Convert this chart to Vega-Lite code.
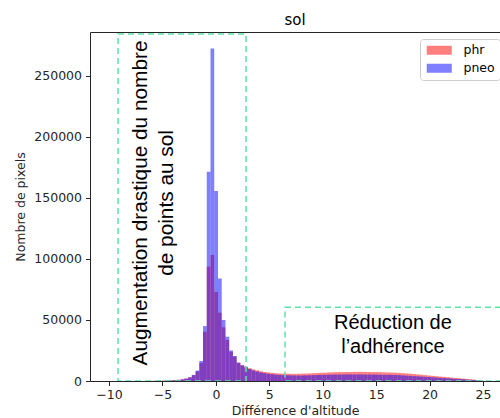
{
"$schema": "https://vega.github.io/schema/vega-lite/v6.json",
"width": 410, "height": 349,
"autosize": "none",
"padding": {"left": 90, "top": 32, "right": 0, "bottom": 37},
"title": {"text": "sol", "font": "DejaVu Sans", "fontSize": 15, "fontWeight": "normal", "color": "#000000", "offset": 4},
"config": {
  "view": {"stroke": null},
  "axis": {"labelFont": "DejaVu Sans", "labelFontSize": 12.5, "labelColor": "#262626", "tickColor": "#262626", "domainColor": "#262626", "tickSize": 4.5, "titleFont": "DejaVu Sans", "titleFontSize": 12.5, "titleFontWeight": "normal", "titleColor": "#262626", "grid": false, "labelFlush": false, "labelOverlap": false}
},
"resolve": {"axis": {"x": "independent"}},
"layer": [
  {
    "data": {"values": [
      {"s": -6.15, "e": -5.8, "phr": 100, "pneo": 80},
      {"s": -5.8, "e": -5.45, "phr": 150, "pneo": 100},
      {"s": -5.45, "e": -5.1, "phr": 200, "pneo": 150},
      {"s": -5.1, "e": -4.75, "phr": 300, "pneo": 200},
      {"s": -4.75, "e": -4.4, "phr": 400, "pneo": 300},
      {"s": -4.4, "e": -4.05, "phr": 600, "pneo": 400},
      {"s": -4.05, "e": -3.7, "phr": 800, "pneo": 600},
      {"s": -3.7, "e": -3.35, "phr": 1100, "pneo": 900},
      {"s": -3.35, "e": -3.0, "phr": 1500, "pneo": 1300},
      {"s": -3.0, "e": -2.65, "phr": 2100, "pneo": 1900},
      {"s": -2.65, "e": -2.3, "phr": 3000, "pneo": 3000},
      {"s": -2.3, "e": -1.95, "phr": 4800, "pneo": 5000},
      {"s": -1.95, "e": -1.6, "phr": 8000, "pneo": 8500},
      {"s": -1.6, "e": -1.25, "phr": 14800, "pneo": 16400},
      {"s": -1.25, "e": -0.9, "phr": 40400, "pneo": 45000},
      {"s": -0.9, "e": -0.55, "phr": 93700, "pneo": 171500},
      {"s": -0.55, "e": -0.2, "phr": 103300, "pneo": 272400},
      {"s": -0.2, "e": 0.15, "phr": 73000, "pneo": 155700},
      {"s": 0.15, "e": 0.5, "phr": 56000, "pneo": 84000},
      {"s": 0.5, "e": 0.85, "phr": 44000, "pneo": 50000},
      {"s": 0.85, "e": 1.2, "phr": 33600, "pneo": 36300},
      {"s": 1.2, "e": 1.55, "phr": 24000, "pneo": 25000},
      {"s": 1.55, "e": 1.9, "phr": 20000, "pneo": 20500},
      {"s": 1.9, "e": 2.25, "phr": 15000, "pneo": 15000},
      {"s": 2.25, "e": 2.6, "phr": 13000, "pneo": 12800},
      {"s": 2.6, "e": 2.95, "phr": 11800, "pneo": 11200},
      {"s": 2.95, "e": 3.3, "phr": 10500, "pneo": 9800},
      {"s": 3.3, "e": 3.65, "phr": 9500, "pneo": 8700},
      {"s": 3.65, "e": 4.0, "phr": 8700, "pneo": 7800},
      {"s": 4.0, "e": 4.35, "phr": 8000, "pneo": 7000},
      {"s": 4.35, "e": 4.7, "phr": 7400, "pneo": 6400},
      {"s": 4.7, "e": 5.05, "phr": 7000, "pneo": 5900},
      {"s": 5.05, "e": 5.4, "phr": 6700, "pneo": 5500},
      {"s": 5.4, "e": 5.75, "phr": 6400, "pneo": 5200},
      {"s": 5.75, "e": 6.1, "phr": 6200, "pneo": 5000},
      {"s": 6.1, "e": 6.45, "phr": 6100, "pneo": 4800},
      {"s": 6.45, "e": 6.8, "phr": 6000, "pneo": 4700},
      {"s": 6.8, "e": 7.15, "phr": 5900, "pneo": 4600},
      {"s": 7.15, "e": 7.5, "phr": 5900, "pneo": 4500},
      {"s": 7.5, "e": 7.85, "phr": 5900, "pneo": 4500},
      {"s": 7.85, "e": 8.2, "phr": 6000, "pneo": 4500},
      {"s": 8.2, "e": 8.55, "phr": 6100, "pneo": 4600},
      {"s": 8.55, "e": 8.9, "phr": 6200, "pneo": 4700},
      {"s": 8.9, "e": 9.25, "phr": 6400, "pneo": 4800},
      {"s": 9.25, "e": 9.6, "phr": 6500, "pneo": 4900},
      {"s": 9.6, "e": 9.95, "phr": 6700, "pneo": 5000},
      {"s": 9.95, "e": 10.3, "phr": 6800, "pneo": 5100},
      {"s": 10.3, "e": 10.65, "phr": 7000, "pneo": 5200},
      {"s": 10.65, "e": 11.0, "phr": 7100, "pneo": 5200},
      {"s": 11.0, "e": 11.35, "phr": 7200, "pneo": 5300},
      {"s": 11.35, "e": 11.7, "phr": 7300, "pneo": 5300},
      {"s": 11.7, "e": 12.05, "phr": 7300, "pneo": 5300},
      {"s": 12.05, "e": 12.4, "phr": 7400, "pneo": 5400},
      {"s": 12.4, "e": 12.75, "phr": 7400, "pneo": 5400},
      {"s": 12.75, "e": 13.1, "phr": 7500, "pneo": 5400},
      {"s": 13.1, "e": 13.45, "phr": 7500, "pneo": 5400},
      {"s": 13.45, "e": 13.8, "phr": 7500, "pneo": 5400},
      {"s": 13.8, "e": 14.15, "phr": 7400, "pneo": 5300},
      {"s": 14.15, "e": 14.5, "phr": 7400, "pneo": 5300},
      {"s": 14.5, "e": 14.85, "phr": 7300, "pneo": 5300},
      {"s": 14.85, "e": 15.2, "phr": 7300, "pneo": 5200},
      {"s": 15.2, "e": 15.55, "phr": 7200, "pneo": 5200},
      {"s": 15.55, "e": 15.9, "phr": 7100, "pneo": 5100},
      {"s": 15.9, "e": 16.25, "phr": 7000, "pneo": 5100},
      {"s": 16.25, "e": 16.6, "phr": 6900, "pneo": 5000},
      {"s": 16.6, "e": 16.95, "phr": 6800, "pneo": 4900},
      {"s": 16.95, "e": 17.3, "phr": 6600, "pneo": 4800},
      {"s": 17.3, "e": 17.65, "phr": 6400, "pneo": 4600},
      {"s": 17.65, "e": 18.0, "phr": 6200, "pneo": 4400},
      {"s": 18.0, "e": 18.35, "phr": 6000, "pneo": 4200},
      {"s": 18.35, "e": 18.7, "phr": 5700, "pneo": 4000},
      {"s": 18.7, "e": 19.05, "phr": 5400, "pneo": 3800},
      {"s": 19.05, "e": 19.4, "phr": 5100, "pneo": 3600},
      {"s": 19.4, "e": 19.75, "phr": 4800, "pneo": 3400},
      {"s": 19.75, "e": 20.1, "phr": 4500, "pneo": 3200},
      {"s": 20.1, "e": 20.45, "phr": 4200, "pneo": 3000},
      {"s": 20.45, "e": 20.8, "phr": 3900, "pneo": 2800},
      {"s": 20.8, "e": 21.15, "phr": 3600, "pneo": 2600},
      {"s": 21.15, "e": 21.5, "phr": 3400, "pneo": 2400},
      {"s": 21.5, "e": 21.85, "phr": 3100, "pneo": 2200},
      {"s": 21.85, "e": 22.2, "phr": 2800, "pneo": 2000},
      {"s": 22.2, "e": 22.55, "phr": 2500, "pneo": 1800},
      {"s": 22.55, "e": 22.9, "phr": 2300, "pneo": 1600},
      {"s": 22.9, "e": 23.25, "phr": 2000, "pneo": 1400},
      {"s": 23.25, "e": 23.6, "phr": 1700, "pneo": 1200},
      {"s": 23.6, "e": 23.95, "phr": 1400, "pneo": 1000},
      {"s": 23.95, "e": 24.3, "phr": 1100, "pneo": 800},
      {"s": 24.3, "e": 24.65, "phr": 700, "pneo": 500},
      {"s": 24.65, "e": 25.0, "phr": 350, "pneo": 250}
    ]},
    "transform": [{"fold": ["phr", "pneo"], "as": ["serie", "n"]}],
    "mark": {"type": "bar", "opacity": 0.5, "clip": true, "binSpacing": 0},
    "encoding": {
      "x": {"field": "s", "type": "quantitative", "bin": "binned", "title": "Différence d'altitude",
            "scale": {"domain": [-11.78, 26.59], "nice": false, "zero": false},
            "axis": {"orient": "bottom", "values": [-10, -5, 0, 5, 10, 15, 20, 25], "labelExpr": "replace(datum.label, '-', '−')", "labelPadding": 3, "titlePadding": 3}},
      "x2": {"field": "e"},
      "y": {"field": "n", "type": "quantitative", "stack": null, "title": "Nombre de pixels",
            "scale": {"domain": [0, 286000], "nice": false},
            "axis": {"values": [0, 50000, 100000, 150000, 200000, 250000], "format": "d", "labelPadding": 4, "titlePadding": 6}},
      "color": {"field": "serie", "type": "nominal",
                "scale": {"domain": ["phr", "pneo"], "range": ["#ff0000", "#0000ff"]},
                "legend": {"title": null, "orient": "none", "legendX": 330, "legendY": 7, "symbolType": "M-1,-1H4.56V1H-1Z", "symbolSize": 81, "symbolOpacity": 0.5, "symbolStrokeWidth": 0, "labelFont": "DejaVu Sans", "labelFontSize": 12.5, "labelColor": "#000000", "labelOffset": 26, "padding": 5, "rowPadding": 5, "strokeColor": "#cccccc", "fillColor": "#ffffff", "cornerRadius": 3}}
    }
  },
  {
    "data": {"values": [
      {"x1": -9.16, "x2": 2.82, "y1": 0, "y2": 284400},
      {"x1": 6.47, "x2": 30, "y1": 0, "y2": 60400}
    ]},
    "mark": {"type": "rect", "filled": false, "stroke": "#5ee3a6", "strokeWidth": 1.5, "strokeDash": [6, 4], "clip": true},
    "encoding": {
      "x": {"field": "x1", "type": "quantitative", "axis": {"orient": "top", "labels": false, "ticks": false, "tickSize": 0, "labelPadding": 0, "minExtent": 0, "maxExtent": 0, "domain": true, "title": null}},
      "x2": {"field": "x2"},
      "y": {"field": "y1", "type": "quantitative", "title": "Nombre de pixels"},
      "y2": {"field": "y2"}
    }
  },
  {
    "data": {"values": [{"x": -7.01, "y": 145900, "t": "Augmentation drastique du nombre\nde points au sol"}]},
    "mark": {"type": "text", "angle": 270, "font": "Liberation Sans", "fontSize": 20.8, "lineHeight": 26, "lineBreak": "\n", "align": "center", "baseline": "middle", "color": "#000000"},
    "encoding": {
      "x": {"field": "x", "type": "quantitative", "axis": null},
      "y": {"field": "y", "type": "quantitative", "title": "Nombre de pixels"},
      "text": {"field": "t"}
    }
  },
  {
    "data": {"values": [{"x": 16.57, "y": 47500, "t": "Réduction de\nl’adhérence"}]},
    "mark": {"type": "text", "font": "Liberation Sans", "fontSize": 20, "lineHeight": 24, "lineBreak": "\n", "align": "center", "baseline": "middle", "color": "#000000"},
    "encoding": {
      "x": {"field": "x", "type": "quantitative", "axis": null},
      "y": {"field": "y", "type": "quantitative", "title": "Nombre de pixels"},
      "text": {"field": "t"}
    }
  }
]
}
